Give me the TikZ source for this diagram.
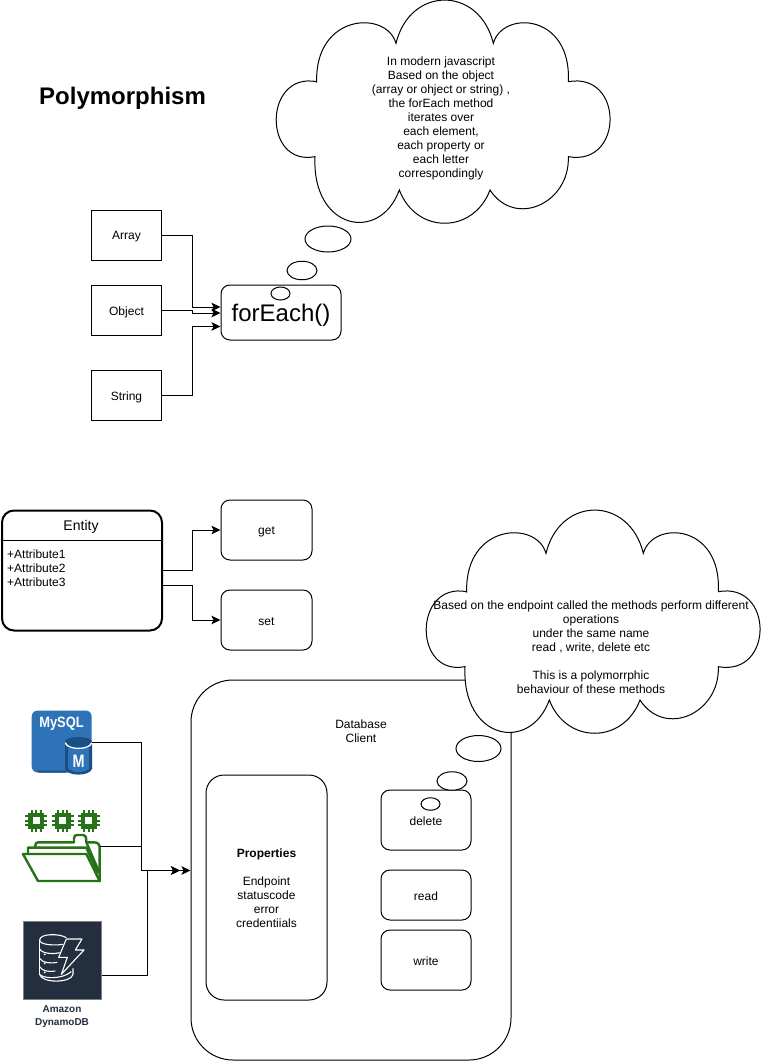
\documentclass[tikz,border=0pt]{standalone}
\usepackage{fontspec}
\setmainfont{Liberation Sans}
\usetikzlibrary{arrows.meta,shapes.geometric}
\definecolor{fgreen}{HTML}{277116}
\definecolor{myblue}{HTML}{2E73B8}
\definecolor{mydark}{HTML}{1A4F85}
\definecolor{dyn}{HTML}{232F3E}
\newcommand\dn[2][2pt]{\raisebox{-#1}[\height][\depth]{#2}}
\tikzset{
  plainbox/.style={draw=black,line width=1pt,fill=white,inner sep=0pt,align=center,font=\fontsize{12}{14}\selectfont},
  roundbox/.style={plainbox,rounded corners=9pt},
  txt/.style={inner sep=0pt,align=center,font=\fontsize{12}{14}\selectfont},
  bubble/.style={ellipse,draw=black,line width=1pt,fill=white,inner sep=0pt},
  conn/.style={draw=black,line width=1pt,-{Stealth[length=9pt,width=8.5pt,inset=2pt]}},
  cloudpic/.pic={
    \path[draw=black,line width=1pt,fill=white]
      (140,245) .. controls (135,40) and (350,30) .. (378,130)
      .. controls (420,-43) and (628,-43) .. (670,130)
      .. controls (698,30) and (905,40) .. (895,245)
      .. controls (1062,215) and (1062,500) .. (895,470)
      .. controls (900,610) and (735,685) .. (660,570)
      .. controls (610,703) and (438,703) .. (388,570)
      .. controls (330,730) and (125,690) .. (135,470)
      .. controls (-22,500) and (-20,215) .. cycle;
  },
  chippic/.pic={
    \foreach \p in {-4.6,0,4.6}{
      \fill[fgreen] (\p-1,-11) rectangle (\p+1,11);
      \fill[fgreen] (-11,\p-1) rectangle (11,\p+1);
    }
    \fill[fgreen] (-8,-8) rectangle (8,8);
    \fill[white] (-3.6,-3.6) rectangle (3.6,3.6);
  },
}
\begin{document}
\begin{tikzpicture}[x=1pt,y=-1pt]
\useasboundingbox (0,0) rectangle (762,1061);
\fill[white] (0,0) rectangle (762,1061);

% title
\node[anchor=west,inner sep=0pt,font=\fontsize{24}{28}\bfseries\selectfont] (title) at (39,98) {Polymorphism};

% top cloud
\pic at (270,0) [scale=1/3] {cloudpic};
\node[txt] (cloudtext1) at (441,118) {In modern javascript\\Based on the object\\(array or ohject or string) ,\\the forEach method\\iterates over\\each element,\\each property or\\each letter\\correspondingly};

% upper boxes
\node[plainbox,minimum width=70pt,minimum height=50pt] (arr) at (126.5,235) {\dn{Array}};
\node[plainbox,minimum width=70pt,minimum height=50pt] (obj) at (126.5,310) {\dn{Object}};
\node[plainbox,minimum width=70pt,minimum height=50pt] (str) at (126.5,395) {\dn{String}};
\node[roundbox,minimum width=120pt,minimum height=55pt,font=\fontsize{24}{28}\selectfont] (fe) at (281,312.5) {\dn[3pt]{forEach()}};
\coordinate (fe1) at (fe.west |- 0,307);
\coordinate (fe2) at (fe.west |- 0,313);
\coordinate (fe3) at (fe.west |- 0,326.5);
\draw[conn] (arr.east) -- ++(30,0) |- (fe1);
\draw[conn] (obj.east) -- ++(30,0) |- (fe2);
\draw[conn] (str.east) -- ++(30,0) |- (fe3);

% bubbles top
\node[bubble,minimum width=46pt,minimum height=26pt] (b1) at (328,239) {};
\node[bubble,minimum width=30pt,minimum height=18.5pt] (b2) at (302,270.5) {};
\node[bubble,minimum width=19pt,minimum height=13pt] (b3) at (280.5,293.5) {};

% entity
\node[draw=black,line width=2pt,rounded corners=12pt,fill=white,minimum width=160pt,minimum height=120pt,inner sep=0pt] (ent) at (82,570.5) {};
\draw[line width=1.6pt] (ent.west |- 0,540.5) coordinate (hl) -- (ent.east |- 0,540.5) coordinate (hr);
\node[txt,font=\fontsize{14}{16}\selectfont] (enttitle) at (81,526.5) {Entity};
\node[inner sep=0pt,align=left,anchor=north west,font=\fontsize{12}{14}\selectfont] (attrs) at (7,550) {+Attribute1\\+Attribute2\\+Attribute3};
\node[roundbox,minimum width=91pt,minimum height=60pt] (get) at (266.5,530) {\dn{get}};
\node[roundbox,minimum width=91pt,minimum height=60pt] (set) at (266.5,620) {\dn{set}};
\coordinate (e1) at (ent.east |- 0,570);
\coordinate (e2) at (ent.east |- 0,585);
\draw[conn] (e1) -- ++(29,0) |- (get.west);
\draw[conn] (e2) -- ++(29,0) |- (set.west);

% database client
\node[plainbox,rounded corners=42pt,minimum width=320pt,minimum height=380pt] (db) at (351,870) {};
\node[txt] (dbt) at (361,731) {Database\\Client};
\node[plainbox,rounded corners=18pt,minimum width=121pt,minimum height=225pt] (props) at (266.5,887.5) {};
\node[txt] (propstext) at (266.5,888.5) {\textbf{Properties}\\[14pt]Endpoint\\statuscode\\error\\credentiials};
\node[roundbox,minimum width=90pt,minimum height=60pt] (del) at (426,820) {\dn[1.5pt]{delete}};
\node[roundbox,minimum width=90pt,minimum height=50pt] (rd) at (426,895) {\dn[1.5pt]{read}};
\node[roundbox,minimum width=90pt,minimum height=60pt] (wr) at (426,960) {\dn[1.5pt]{write}};

% lower cloud
\pic at (420,510) [scale=1/3] {cloudpic};
\node[txt] (cloudtext2) at (591,647) {Based on the endpoint called the methods perform different\\operations\\under the same name\\read , write, delete etc\\[14pt]This is a polymorrphic\\behaviour of these methods};
\node[bubble,minimum width=45pt,minimum height=26pt] (b4) at (478.5,748.5) {};
\node[bubble,minimum width=30pt,minimum height=18.5pt] (b5) at (452,781) {};
\node[bubble,minimum width=19pt,minimum height=12.5pt] (b6) at (430.5,804) {};

% MySQL icon
\node[rounded corners=6pt,fill=myblue,minimum width=60pt,minimum height=62pt,inner sep=0pt] (mysql) at (61.7,741.5) {};
\fill[mydark] (37,770.5) -- (66,770.5) -- (66,772.5) -- (40,772.5) .. controls (38,772.5) and (37,771.5) .. (37,770.5) -- cycle;
\fill[white] (65,742) rectangle (92,748);
\fill[mydark] (65,744) -- (92,744) -- (92,769) .. controls (89,776.5) and (68,776.5) .. (65,769) -- cycle;
\fill[myblue] (68,748) -- (89,748) -- (89,768) .. controls (86,773.5) and (71,773.5) .. (68,768) -- cycle;
\fill[mydark] (78.5,741.5) ellipse [x radius=13.5pt,y radius=4.5pt];
\draw[white,line width=1.3pt] (65.5,743.5) .. controls (69,750) and (88,750) .. (91.5,743.5);
\node[inner sep=0pt,text=white,font=\fontsize{15}{17}\bfseries\selectfont] (mysqltxt) at (61.5,724) {\scalebox{.86}[1]{MySQL}};
\node[inner sep=0pt,text=white,font=\fontsize{18}{20}\bfseries\selectfont] (mtxt) at (78.5,761.5) {\scalebox{.8}[1]{M}};
\coordinate (mysqlout) at (92,742.5);

% folder icon
\pic at (36.3,820.7) {chippic};
\pic at (62.7,820.7) {chippic};
\pic at (88.7,820.7) {chippic};
\begin{scope}[shift={(18,805)},scale=1/3,draw=fgreen,line width=2.4pt,line join=round]
  \draw[fill=white] (30,147) -- (30,128) -- (52,128) -- (52,122) .. controls (52,115) and (55,112) .. (60,112)
    -- (168,112) -- (168,100) .. controls (168,92) and (172,90) .. (178,90) -- (196,90)
    .. controls (202,90) and (205,94) .. (205,112) -- (228,112) .. controls (240,112) and (245,118) .. (245,130) -- (245,228) -- cycle;
  \draw (52,128) -- (205,128) -- (240,205);
  \draw (205,112) -- (243,200);
  \draw[fill=white] (15,147) -- (205,147) -- (245,228) -- (60,228) -- cycle;
\end{scope}
\coordinate (folderout) at (100,846.7);

% DynamoDB icon
\node[draw=gray,line width=1pt,fill=dyn,minimum width=78pt,minimum height=78pt,inner sep=0pt] (dynamo) at (62.2,960) {};
\begin{scope}[shift={(18,915)},scale=1/3,draw=white,line width=1.1pt,line join=round]
  \draw (65,75) .. controls (65,55) and (125,55) .. (145,68);
  \draw (65,75) .. controls (65,90) and (110,92) .. (135,88);
  \draw (65,75) -- (65,180);
  \draw (65,102) .. controls (72,116) and (105,118) .. (125,113);
  \draw (65,130) .. controls (72,144) and (100,146) .. (118,142);
  \draw (65,155) .. controls (72,169) and (95,171) .. (112,168);
  \draw (65,178) .. controls (70,205) and (160,205) .. (165,178) -- (165,160);
  \draw (65,178) .. controls (72,190) and (130,195) .. (160,170);
  \draw (145,72) -- (192,72) -- (172,105) -- (198,105) -- (130,178) -- (148,127) -- (122,127) -- cycle;
  \foreach \q in {118,145,172}{\fill[white] (80,\q) circle (3);}
\end{scope}
\node[inner sep=0pt,align=center,text=dyn,font=\fontsize{10}{13}\bfseries\selectfont] (dynlabel) at (62,1016.5) {Amazon\\DynamoDB};
\coordinate (dynout) at (102,975.3);

% connectors to client
\coordinate (dbin) at (db.west |- 0,870.5);
\coordinate (dbin2) at (180,870.5);
\draw[conn] (mysqlout) -- (141,742.5) |- (dbin2);
\draw[conn] (folderout) -- (141,846.7) |- (dbin2);
\draw[conn] (dynout) -- (147,975.3) |- (dbin);
\end{tikzpicture}
\end{document}
